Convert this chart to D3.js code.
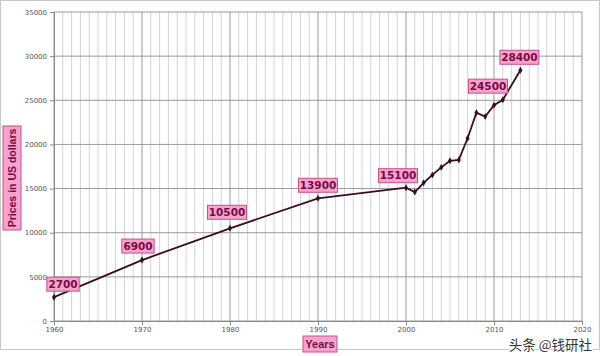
<!DOCTYPE html>
<html><head><meta charset="utf-8">
<script src="https://cdn.jsdelivr.net/npm/d3@7"></script>
<style>body{margin:0;background:#fff}svg{display:block}</style>
</head><body><svg id="c" width="600" height="356"></svg>
<script>
const years = [1960,1970,1980,1990,2000,2001,2002,2003,2004,2005,2006,2007,2008,2009,2010,2011,2013];
const prices = [2700,6900,10500,13900,15100,14600,15650,16550,17400,18150,18250,20700,23600,23150,24450,25050,28400];
const labelYears = [1960,1970,1980,1990,2000,2010,2013];
const labelTexts = ["2700","6900","10500","13900","15100","24500","28400"];
const labelDx = [9,-4,-3,0,-8,-6,-1];
const labelDy = [-13,-14,-16,-13,-12,-19,-13];
const xTicks = [1960,1970,1980,1990,2000,2010,2020];
const yTicks = [0,5000,10000,15000,20000,25000,30000,35000];
const yTitle = "Prices in US dollars";
const xTitle = "Years";
const watermark = "头条 @钱研社";

const svg = d3.select("#c");
const x = d3.scaleLinear().domain([1960,2020]).range([54,582]);
const y = d3.scaleLinear().domain([0,35000]).range([321,12]);

svg.append("rect").attr("x",0.5).attr("y",0.5).attr("width",599).attr("height",349)
  .attr("fill","none").attr("stroke","#c8c8c8");

const g = svg.append("g");
g.selectAll("line.minor").data(d3.range(1961,2020).filter(v=>v%10!==0)).join("line")
  .attr("x1",d=>x(d)).attr("x2",d=>x(d)).attr("y1",y(35000)).attr("y2",y(0))
  .attr("stroke","#d4d4d4").attr("stroke-width",1);
g.selectAll("line.maj").data(xTicks).join("line")
  .attr("x1",d=>x(d)).attr("x2",d=>x(d)).attr("y1",y(35000)).attr("y2",y(0))
  .attr("stroke","#9a9a9a").attr("stroke-width",1);
g.selectAll("line.h").data(yTicks).join("line")
  .attr("x1",x(1960)).attr("x2",x(2020)).attr("y1",d=>y(d)).attr("y2",d=>y(d))
  .attr("stroke","#9a9a9a").attr("stroke-width",1);

const ax = svg.append("g").attr("transform",`translate(0,${y(0)})`)
  .call(d3.axisBottom(x).tickValues(xTicks).tickFormat(d3.format("d")).tickSize(4).tickPadding(2));
const ay = svg.append("g").attr("transform",`translate(${x(1960)},0)`)
  .call(d3.axisLeft(y).tickValues(yTicks).tickFormat(d3.format("d")).tickSize(4).tickPadding(3));
[ax,ay].forEach(a=>{
  a.select(".domain").attr("stroke","#8a8a8a");
  a.selectAll(".tick line").attr("stroke","#8a8a8a");
  a.selectAll("text").attr("fill","#555").attr("font-family","DejaVu Sans, sans-serif").attr("font-size",7);
});

const pts = years.map((d,i)=>[d,prices[i]]);
svg.append("path").datum(pts)
  .attr("d",d3.line().x(d=>x(d[0])).y(d=>y(d[1])))
  .attr("fill","none").attr("stroke","#3a0c22").attr("stroke-width",1.8);
svg.selectAll("path.m").data(pts).join("path")
  .attr("d",d3.symbol(d3.symbolDiamond,14)())
  .attr("transform",d=>`translate(${x(d[0])},${y(d[1])})`)
  .attr("fill","#3a0c22");

function pinkLabel(parent, cx, cy, text, w, h, rot, fs, fam) {
  const gg = parent.append("g").attr("transform",`translate(${cx},${cy})${rot?` rotate(${rot})`:""}`);
  gg.append("rect").attr("x",-w/2).attr("y",-h/2).attr("width",w).attr("height",h)
    .attr("fill","#f4a3cc").attr("stroke","#c8508c").attr("stroke-width",1);
  gg.append("text").attr("text-anchor","middle").attr("dy","0.36em")
    .attr("font-family",fam||"DejaVu Sans, sans-serif").attr("font-weight","bold")
    .attr("font-size",fs||10.5).attr("fill","#7a0a46").text(text);
}
labelYears.forEach((yr,i)=>{
  const v = prices[years.indexOf(yr)];
  const t = labelTexts[i];
  const w = t.length*6.6+6;
  pinkLabel(svg, x(yr)+labelDx[i], y(v)+labelDy[i], t, w, 14);
});
pinkLabel(svg, 12, 178, yTitle, 104, 18, -90, 10.5, "Liberation Sans, Arial, sans-serif");
pinkLabel(svg, 320, 344, xTitle, 34, 16, 0, 11, "Liberation Sans, Arial, sans-serif");

svg.append("text").attr("x",592).attr("y",350).attr("text-anchor","end")
  .attr("font-family","Noto Sans CJK SC, sans-serif").attr("font-size",13.5)
  .attr("fill","#333").attr("stroke","#fff").attr("stroke-width",2.5).attr("paint-order","stroke")
  .text(watermark);
</script></body></html>
